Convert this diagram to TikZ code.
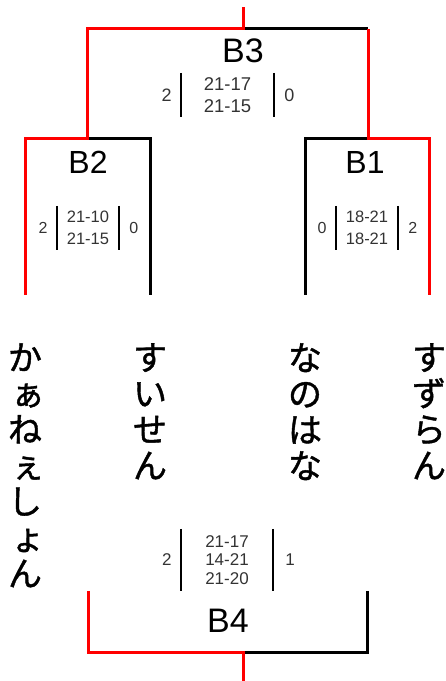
\documentclass[tikz,border=0pt]{standalone}
\usepackage{fontspec}
\setmainfont{Liberation Sans}
\newfontfamily\jpfont{Noto Sans CJK JP}[FakeBold=1.2]
\usetikzlibrary{positioning}

\begin{document}
\begin{tikzpicture}[
    x=1pt, y=1pt,
    win/.style={red, line width=3pt},
    lose/.style={black, line width=3pt},
    match/.style={font=\fontsize{34}{34}\selectfont, inner sep=0pt},
    games/.style={align=center, inner sep=0pt, text=black!80},
    sets/.style={inner sep=0pt, text=black!80},
    bar/.style={line width=2.4pt},
    player/.style={font=\jpfont\fontsize{34}{36}\selectfont, align=center, inner sep=0pt, below=48pt of #1}
]
\useasboundingbox (0,0) rectangle (446,681);

% bracket ends
\coordinate (t1) at (25,386);
\coordinate (t2) at (150,386);
\coordinate (t3) at (305,386);
\coordinate (t4) at (429,386);
\coordinate (m2) at (87,542);
\coordinate (m1) at (368,542);
\coordinate (m3) at (243,652);
\coordinate (champ) at (243,674);
\coordinate (bl) at (88,90);
\coordinate (br) at (367,90);
\coordinate (m4) at (243,28);
\coordinate (third) at (243,0);

\draw[lose] (t2) |- (m2);
\draw[lose] (t3) |- (m1);
\draw[lose] (m1 |- m3) -- (m3);
\draw[win] (t1) |- (m2) |- (m3) -- (champ);
\draw[win] (t4) |- (m1) -- (m1 |- m3);

\draw[lose] (br) |- (m4);
\draw[win] (bl) |- (m4) -- (third);

% matches
\node[match] (b3) at (243,630) {B3};
\node[match, font=\fontsize{32}{32}\selectfont] (b2) at (88,519) {B2};
\node[match, font=\fontsize{32}{32}\selectfont] (b1) at (365,519) {B1};
\node[match] (b4) at (228,60) {B4};

\node[games, font=\fontsize{18.5}{22}\selectfont, minimum width=93pt, minimum height=44pt] (s3) at (227.5,586) {21-17\\21-15};
\node[games, font=\fontsize{16.5}{22}\selectfont, minimum width=62pt, minimum height=44pt] (s2) at (88,453) {21-10\\21-15};
\node[games, font=\fontsize{16.5}{22}\selectfont, minimum width=62pt, minimum height=44pt] (s1) at (367,453) {18-21\\18-21};
\node[games, font=\fontsize{17}{18.5}\selectfont, minimum width=92pt, minimum height=62pt] (s4) at (227,121) {21-17\\14-21\\21-20};

\foreach \s in {s1,s2,s3,s4}
  \draw[bar] (\s.north west) -- (\s.south west) (\s.north east) -- (\s.south east);

\node[sets, font=\fontsize{18}{18}\selectfont, left=9pt of s3] (w3) {2};
\node[sets, font=\fontsize{18}{18}\selectfont, right=10pt of s3] (l3) {0};
\node[sets, font=\fontsize{16}{16}\selectfont, left=9pt of s2] (w2) {2};
\node[sets, font=\fontsize{16}{16}\selectfont, right=10pt of s2] (l2) {0};
\node[sets, font=\fontsize{16}{16}\selectfont, left=9pt of s1] (l1) {0};
\node[sets, font=\fontsize{16}{16}\selectfont, right=10pt of s1] (w1) {2};
\node[sets, font=\fontsize{17}{17}\selectfont, left=9pt of s4] (w4) {2};
\node[sets, font=\fontsize{17}{17}\selectfont, right=12pt of s4] (l4) {1};

% players
\node[player=t1] (kaneshon) {か\\\hspace*{6pt}ぁ\\ね\\\hspace*{6pt}ぇ\\し\\\hspace*{6pt}ょ\\ん};
\node[player=t2] (suisen) {す\\い\\せ\\ん};
\node[player=t3] (nanohana) {な\\の\\は\\な};
\node[player=t4] (suzuran) {す\\ず\\ら\\ん};
\end{tikzpicture}
\end{document}
